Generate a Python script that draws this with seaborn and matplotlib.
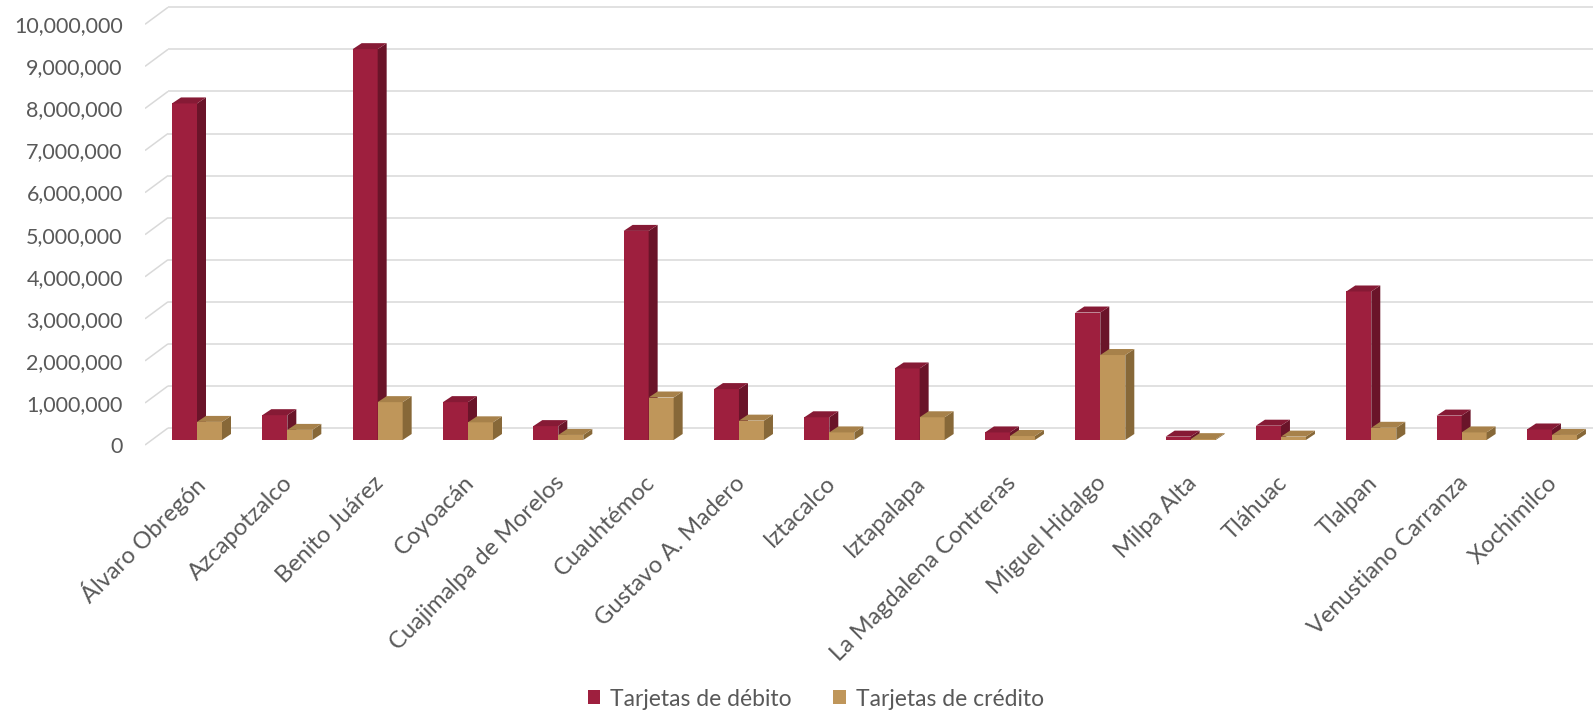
import matplotlib
matplotlib.use("Agg")
import matplotlib.pyplot as plt
from matplotlib.patches import Polygon
from matplotlib.transforms import ScaledTranslation
import seaborn as sns
import pandas as pd

alcaldias = [
    "Álvaro Obregón", "Azcapotzalco", "Benito Juárez", "Coyoacán",
    "Cuajimalpa de Morelos", "Cuauhtémoc", "Gustavo A. Madero", "Iztacalco",
    "Iztapalapa", "La Magdalena Contreras", "Miguel Hidalgo", "Milpa Alta",
    "Tláhuac", "Tlalpan", "Venustiano Carranza", "Xochimilco",
]
debito = [8000000, 590000, 9290000, 900000, 330000, 4970000, 1210000, 540000,
          1700000, 180000, 3030000, 80000, 340000, 3530000, 580000, 250000]
credito = [430000, 240000, 900000, 420000, 120000, 1010000, 460000, 180000,
           540000, 95000, 2020000, 20000, 80000, 290000, 180000, 120000]
series = ["Tarjetas de débito", "Tarjetas de crédito"]
y_ticks = list(range(0, 10000001, 1000000))

front_colors = ["#9E1F3E", "#BF965A"]
top_colors = ["#861A35", "#A7814A"]
side_colors = ["#6A1429", "#876838"]
text_color = "#595959"
grid_color = "#D9D9D9"

df = pd.DataFrame({
    "alcaldia": alcaldias * 2,
    "valor": debito + credito,
    "tipo": [series[0]] * len(alcaldias) + [series[1]] * len(alcaldias),
})

W, H, DPI = 1593, 714, 100
sns.set_theme(style="white")
plt.rcParams["font.family"] = ["Lato", "DejaVu Sans"]

fig = plt.figure(figsize=(W / DPI, H / DPI), dpi=DPI)
fig.patch.set_facecolor("white")

# plot area in pixels: left edge, right edge, top, bottom
px_left, px_right, px_top, px_bot = 145, 1593, 0, 450
ax = fig.add_axes([px_left / W, (H - px_bot) / H,
                   (px_right - px_left) / W, (px_bot - px_top) / H])

step_px = 90.33      # pixels per category
unit_px = 42.07      # pixels per 1,000,000
x0_px = 197          # pixel x of the first category centre
y0_px = 440          # pixel y of the bar base
ax.set_xlim((px_left - x0_px) / step_px, (px_right - x0_px) / step_px)
ax.set_ylim(-(px_bot - y0_px) / unit_px * 1e6, (y0_px - px_top) / unit_px * 1e6)

bar_w = 25 / step_px
sns.barplot(data=df, x="alcaldia", y="valor", hue="tipo", hue_order=series,
            palette=front_colors, width=2 * bar_w, dodge=True, ax=ax,
            saturation=1, legend=True, linewidth=0, zorder=2)
ax.set_xlim((px_left - x0_px) / step_px, (px_right - x0_px) / step_px)

# depth of each bar
ddx = 9 / step_px
ddy = 6 / unit_px * 1e6
n = len(alcaldias)
bars = [p for p in ax.patches if p.get_height() > 0 or p.get_width() > 0][:2 * n]
for k, p in enumerate(bars):
    s = k // n
    i = k % n
    z = 2 + i * 2 + s
    p.set_zorder(z)
    x, w, h = p.get_x(), p.get_width(), p.get_height()
    side = Polygon([(x + w, 0), (x + w + ddx, ddy), (x + w + ddx, h + ddy), (x + w, h)],
                   closed=True, facecolor=side_colors[s], edgecolor="none", zorder=z)
    top = Polygon([(x, h), (x + ddx, h + ddy), (x + w + ddx, h + ddy), (x + w, h)],
                  closed=True, facecolor=top_colors[s], edgecolor="none", zorder=z)
    ax.add_patch(side)
    ax.add_patch(top)

# back wall gridlines with the diagonal to the front plane
back_dx = 23 / step_px
back_dy = 12 / unit_px * 1e6
front_dy = -5 / unit_px * 1e6
xl, xr = ax.get_xlim()
for v in y_ticks:
    ax.plot([xl, xl + back_dx], [v + front_dy, v + back_dy], color=grid_color,
            lw=1.1, zorder=0, solid_capstyle="butt")
    ax.plot([xl + back_dx, xr], [v + back_dy, v + back_dy], color=grid_color,
            lw=1.1, zorder=0, solid_capstyle="butt")

for sp in ax.spines.values():
    sp.set_visible(False)
ax.set_xlabel("")
ax.set_ylabel("")

ax.set_yticks(y_ticks)
ax.set_yticklabels([f"{v:,}" for v in y_ticks])
ax.tick_params(axis="y", length=0, pad=16, labelsize=15.5, labelcolor=text_color)
shift_y = ScaledTranslation(0, -5 / DPI, fig.dpi_scale_trans)
for lab in ax.get_yticklabels():
    lab.set_transform(lab.get_transform() + shift_y)

ax.set_xticks(range(n))
ax.set_xticklabels(alcaldias, rotation=45, ha="right", rotation_mode="anchor")
ax.tick_params(axis="x", length=0, pad=16, labelsize=17, labelcolor=text_color)
shift_x = ScaledTranslation(-5 / DPI, 0, fig.dpi_scale_trans)
for lab in ax.get_xticklabels():
    lab.set_transform(lab.get_transform() + shift_x)

handles, labels = ax.get_legend_handles_labels()
ax.legend(handles, labels, loc="center", bbox_to_anchor=(816 / W, 1 - 699 / H),
          bbox_transform=fig.transFigure, ncol=2, frameon=False, fontsize=16.5,
          labelcolor=text_color, handlelength=0.55, handleheight=0.55,
          handletextpad=0.45, columnspacing=1.8)

fig.savefig("out.png", dpi=DPI, facecolor="white")
